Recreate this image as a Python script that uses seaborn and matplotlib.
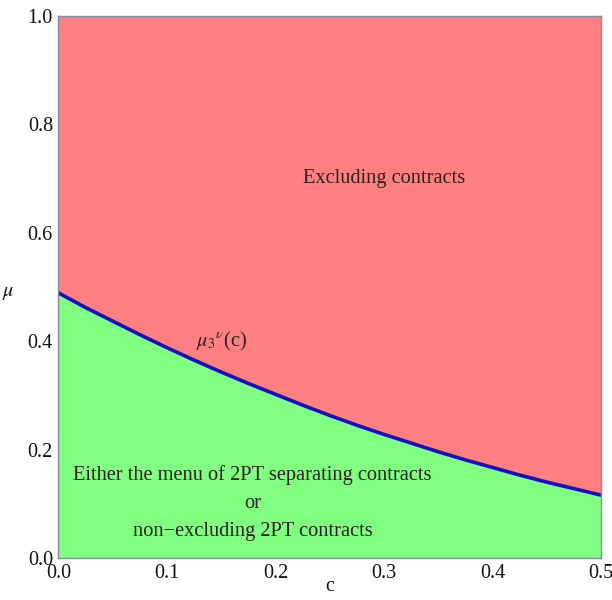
import numpy as np
import pandas as pd
import matplotlib
matplotlib.use("Agg")
import matplotlib.pyplot as plt
import seaborn as sns
from matplotlib.ticker import MultipleLocator, FormatStrFormatter

# data
c_vals = [0.000, 0.025, 0.050, 0.075, 0.100, 0.125, 0.150, 0.175, 0.200, 0.225,
          0.250, 0.275, 0.300, 0.325, 0.350, 0.375, 0.400, 0.425, 0.450, 0.475, 0.500]
mu_vals = [0.489, 0.462, 0.437, 0.412, 0.388, 0.365, 0.343, 0.322, 0.302, 0.282,
           0.263, 0.245, 0.228, 0.212, 0.196, 0.181, 0.167, 0.153, 0.140, 0.128, 0.116]
x_ticks = [0.0, 0.1, 0.2, 0.3, 0.4, 0.5]
y_ticks = [0.0, 0.2, 0.4, 0.6, 0.8, 1.0]
region_labels = ["Excluding contracts",
                 "Either the menu of 2PT separating contracts",
                 "or",
                 "non\u2212excluding 2PT contracts"]
curve_label = r"$\mu_3{}^{\nu}$(c)"

df = pd.DataFrame({"c": c_vals, "mu": mu_vals})

sns.set_theme(style="ticks")
plt.rcParams["font.family"] = ["Liberation Serif", "DejaVu Serif"]
plt.rcParams["mathtext.fontset"] = "stix"

fig = plt.figure(figsize=(6.12, 6.0), dpi=100)
ax = fig.add_axes([0.0955, 0.07, 0.8865, 0.9035])

ax.fill_between(df["c"], df["mu"], 1.0, color="#FF8080", lw=0, zorder=1)
ax.fill_between(df["c"], 0.0, df["mu"], color="#80FF80", lw=0, zorder=1)
sns.lineplot(data=df, x="c", y="mu", ax=ax, color="#1212C0", lw=2.6, zorder=3)

ax.set_xlim(0, 0.5)
ax.set_ylim(0, 1.0)
ax.set_xticks(x_ticks)
ax.set_yticks(y_ticks)
ax.xaxis.set_major_formatter(FormatStrFormatter("%.1f"))
ax.yaxis.set_major_formatter(FormatStrFormatter("%.1f"))
ax.xaxis.set_minor_locator(MultipleLocator(0.02))
ax.yaxis.set_minor_locator(MultipleLocator(0.05))
ax.tick_params(which="both", direction="in", top=True, right=True, color="#8a8aa0")
ax.tick_params(which="major", length=4.5, width=0.8, labelsize=14.5, labelcolor="#111111", pad=4)
ax.tick_params(which="minor", length=2.8, width=0.6)
for s in ax.spines.values():
    s.set_color("#8a8aa0")
    s.set_linewidth(1.0)
    s.set_zorder(5)

ax.set_xlabel("c", fontsize=14.5, color="#111111")
ax.xaxis.set_label_coords(0.5, -0.052)
ax.xaxis.label.set_va("center")
ax.set_ylabel(r"$\mu$", fontsize=14.5, color="#111111", rotation=0, va="center", ha="center")
ax.yaxis.set_label_coords(-0.093, 0.49)

tc = "#2a2020"
fs = 14.7
ax.text(0.30, 0.70, region_labels[0], fontsize=fs, color=tc, ha="center", va="center")
ax.text(0.15, 0.40, curve_label, fontsize=fs, color=tc, ha="center", va="center")
ax.text(0.179, 0.153, region_labels[1], fontsize=fs, color=tc, ha="center", va="center")
ax.text(0.179, 0.100, region_labels[2], fontsize=fs, color=tc, ha="center", va="center")
ax.text(0.179, 0.048, region_labels[3], fontsize=fs, color=tc, ha="center", va="center")

fig.savefig("out.png", dpi=100)
